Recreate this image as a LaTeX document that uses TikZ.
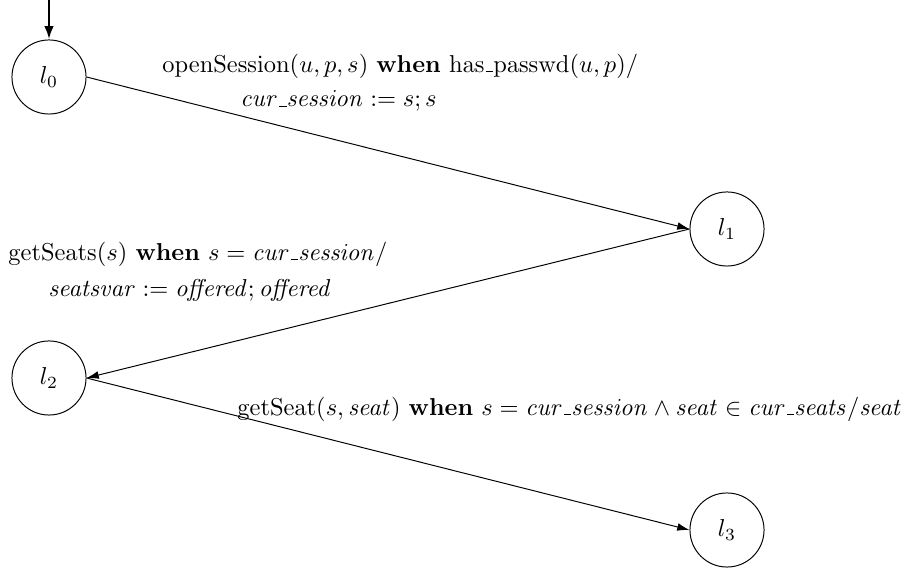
\documentclass[tikz,border=0pt]{standalone}
\usetikzlibrary{arrows.meta}
\newcommand\usc{\leavevmode\kern.06em\vbox{\hrule width.3em}}
\begin{document}
\begin{tikzpicture}[x=0.409pt,y=-0.409pt,
  state/.style={draw,circle,minimum size=30.3pt,inner sep=0pt},
  lbl/.style={anchor=west,inner sep=0pt},
  edge/.style={-{Latex[length=5pt,width=3.2pt]}},
  init/.style={line width=1.2pt,-{Latex[length=5.5pt,width=4pt]}}]
\useasboundingbox (0,0) rectangle (912,571);
\node[state] (l0) at (49,77) {$l_0$};
\node[state] (l1) at (727,229) {$l_1$};
\node[state] (l2) at (49,378) {$l_2$};
\node[state] (l3) at (727,530) {$l_3$};
\coordinate (start) at (49,0);
\draw[init] (start) -- (l0.north);
\draw[edge] (l0.east) -- (l1.west);
\draw[edge] (l1.west) -- (l2.east);
\draw[edge] (l2.east) -- (l3.west);
\node[lbl] (t1a) at (162,66) {$\mathrm{openSession}(u,p,s)$ \textbf{when} $\mathrm{has\usc passwd}(u,p)/$};
\node[lbl] (t1b) at (240,101) {$\mathit{cur\usc session}:=s;s$};
\node[lbl] (t2a) at (8,254) {$\mathrm{getSeats}(s)$ \textbf{when} $s=\mathit{cur\usc session}/$};
\node[lbl] (t2b) at (48,290) {$\mathit{seatsvar}:=\mathit{offered};\mathit{offered}$};
\node[lbl] (t3) at (237,409) {$\mathrm{getSeat}(s,\mathit{seat})$ \textbf{when} $s=\mathit{cur\usc session}\wedge\mathit{seat}\in\mathit{cur\usc seats}/\mathit{seat}$};
\end{tikzpicture}
\end{document}
